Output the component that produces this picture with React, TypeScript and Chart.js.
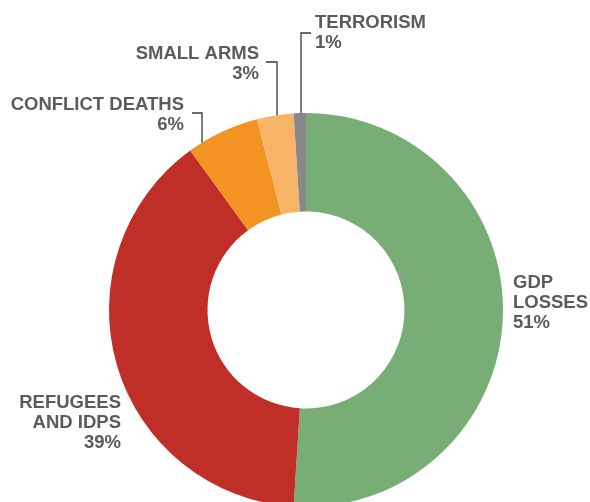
import React, { useEffect, useRef } from "react";
import { Chart, registerables } from "chart.js";

Chart.register(...registerables);

const categories = ["GDP LOSSES", "REFUGEES AND IDPS", "CONFLICT DEATHS", "SMALL ARMS", "TERRORISM"];
const values = [51, 39, 6, 3, 1];
const colors = ["#79ad76", "#bf2f27", "#f39322", "#f8b466", "#88888b"];
const labelLines = [["GDP", "LOSSES"], ["REFUGEES", "AND IDPS"], ["CONFLICT DEATHS"], ["SMALL ARMS"], ["TERRORISM"]];

// label layout (positions only)
const labelLayout = [
  { x: 513, y: 288, align: "left", leader: null },
  { x: 121, y: 408, align: "right", leader: null },
  { x: 184, y: 110, align: "right", leader: { x: 202, topY: 113, endX: 192 } },
  { x: 259, y: 59, align: "right", leader: { x: 277, topY: 62, endX: 266 } },
  { x: 315, y: 28, align: "left", leader: { x: 301, topY: 33, endX: 311 } },
];

const labelPlugin = {
  id: "labelPlugin",
  afterDraw(chart: any) {
    const ctx = chart.ctx;
    const meta = chart.getDatasetMeta(0);
    const arc0 = meta.data[0];
    const cx = arc0.x;
    const cy = arc0.y;
    const r = arc0.outerRadius;
    ctx.save();
    labelLayout.forEach((l: any, i: number) => {
      if (l.leader) {
        const dx = l.leader.x - cx;
        const ay = cy - Math.sqrt(Math.max(r * r - dx * dx, 0));
        ctx.strokeStyle = "#3a3a3a";
        ctx.lineWidth = 1.3;
        ctx.beginPath();
        ctx.moveTo(l.leader.x, ay);
        ctx.lineTo(l.leader.x, l.leader.topY);
        ctx.lineTo(l.leader.endX, l.leader.topY);
        ctx.stroke();
      }
      const lines = [...labelLines[i], values[i] + "%"];
      ctx.fillStyle = "#5b5b5b";
      ctx.font = "bold 18.5px 'Liberation Sans', Arial, sans-serif";
      ctx.textAlign = l.align;
      ctx.textBaseline = "alphabetic";
      lines.forEach((t: string, j: number) => {
        ctx.fillText(t, l.x, l.y + j * 20);
      });
    });
    ctx.restore();
  },
};

export default function App() {
  const ref = useRef<HTMLCanvasElement>(null);
  useEffect(() => {
    const chart = new Chart(ref.current as HTMLCanvasElement, {
      type: "doughnut",
      data: {
        labels: categories,
        datasets: [
          {
            data: values,
            backgroundColor: colors,
            borderWidth: 0,
          },
        ],
      },
      options: {
        responsive: false,
        animation: false,
        cutout: "50%",
        layout: { padding: { left: 109, right: 87, top: 113, bottom: 13 } },
        plugins: { legend: { display: false }, tooltip: { enabled: false } },
      },
      plugins: [labelPlugin],
    });
    return () => chart.destroy();
  }, []);
  return (
    <div style={{ position: "fixed", left: 0, top: 0, width: 590, height: 502, overflow: "hidden", background: "#fff" }}>
      <canvas ref={ref} width={590} height={520} style={{ display: "block" }} />
    </div>
  );
}
